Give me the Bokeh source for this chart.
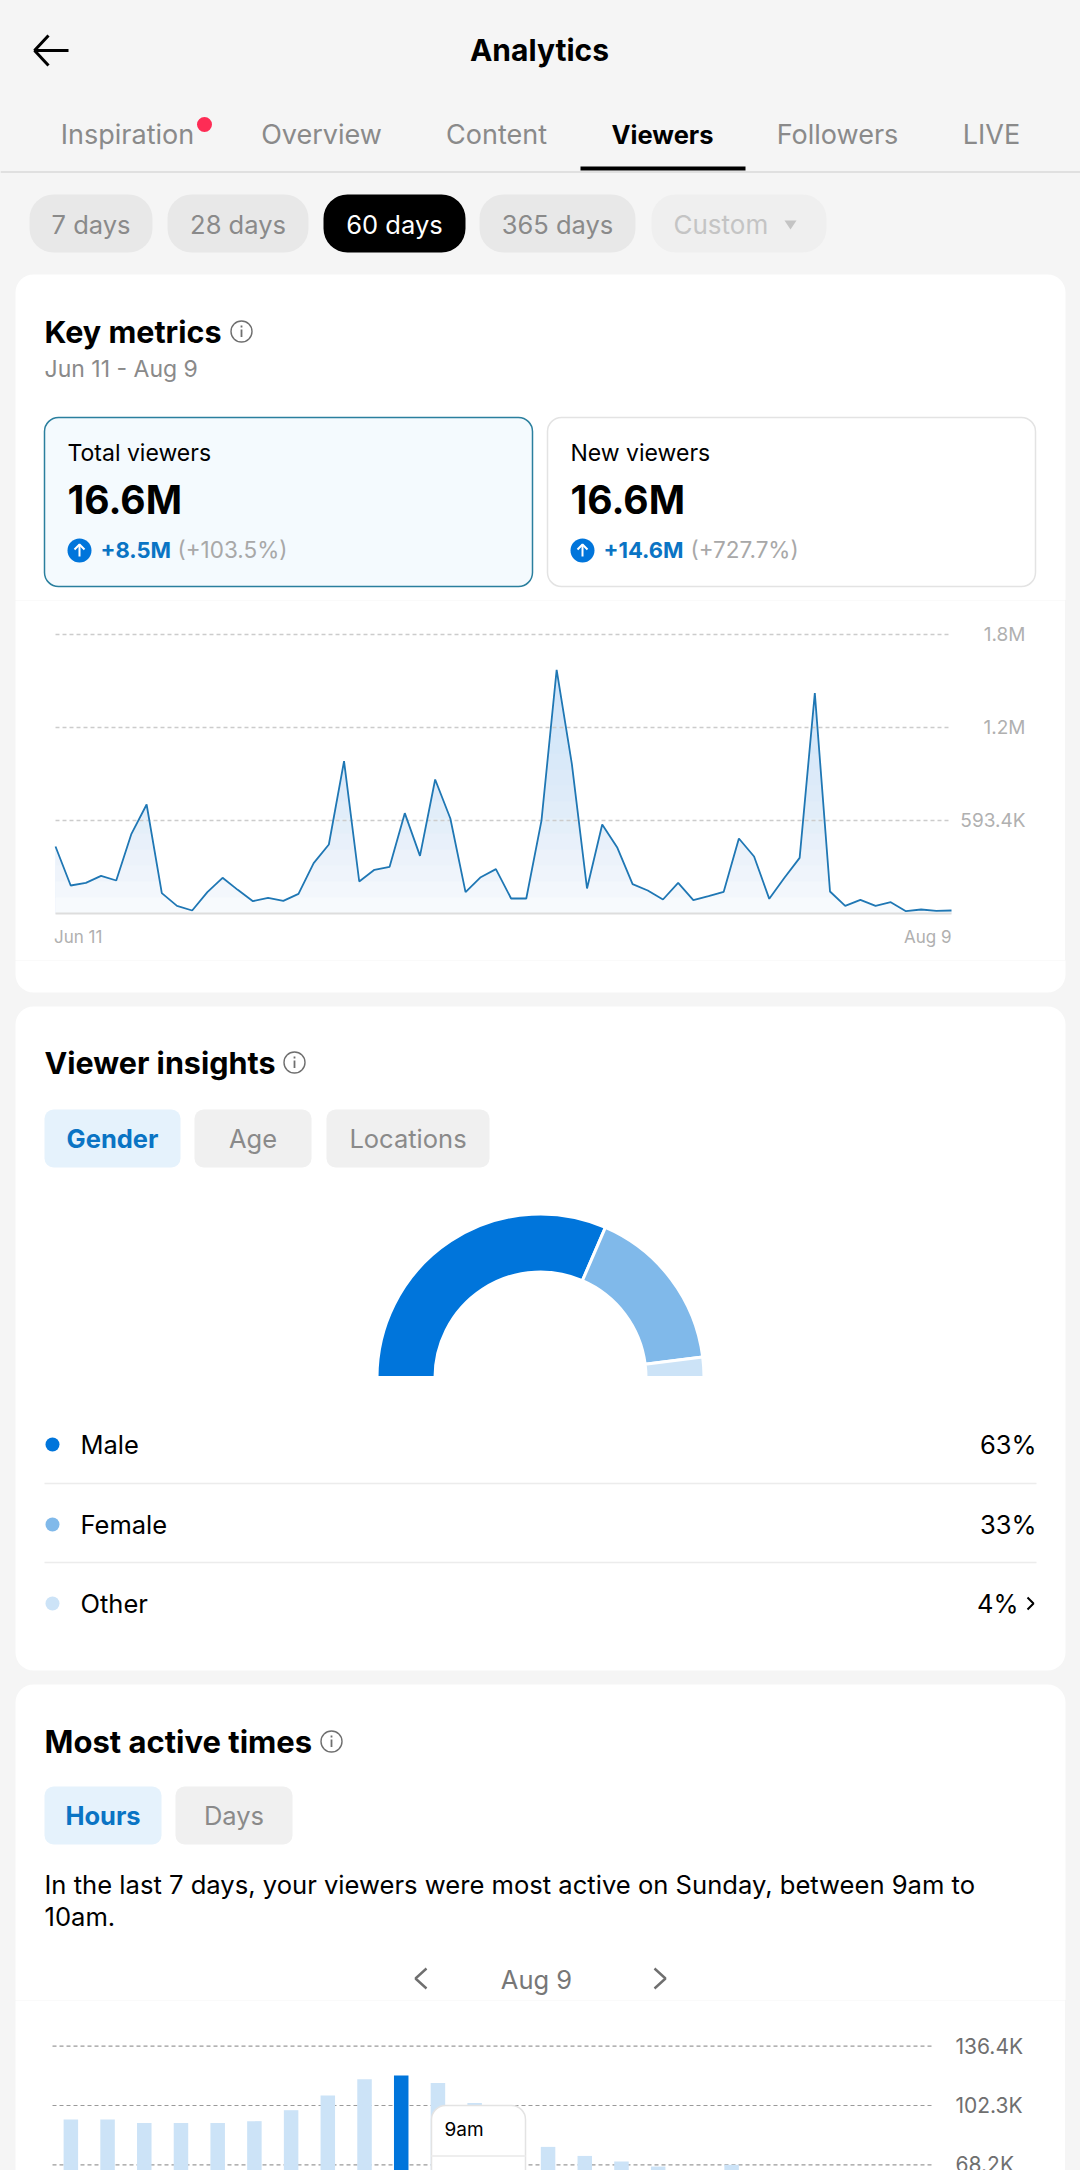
from bokeh.plotting import figure
from bokeh.layouts import column
from bokeh.models import Range1d
from bokeh.core.properties import value
from bokeh.embed import file_html
from bokeh.resources import INLINE
import math

# ---------- data ----------
TABS = ["Inspiration", "Overview", "Content", "Viewers", "Followers", "LIVE"]
PERIODS = ["7 days", "28 days", "60 days", "365 days", "Custom"]
VIEWERS_K = [427.5, 178.7, 195.7, 240.4, 210.6, 508.4, 695.5, 129.7, 48.9, 19.1,
             136.1, 227.6, 151.0, 78.7, 100.0, 80.8, 125.5, 321.2, 440.3, 972.0,
             204.2, 278.6, 297.8, 640.2, 368.0, 855.0, 606.0, 136.1, 231.8, 282.9,
             95.7, 95.7, 593.0, 1554.8, 955.0, 159.5, 567.9, 419.0, 187.2, 146.8,
             89.3, 195.7, 85.0, 110.6, 138.3, 478.6, 363.7, 93.6, 227.6, 355.2,
             1406.0, 140.4, 48.9, 87.2, 48.9, 72.3, 14.9, 25.5, 17.0, 19.1]
LINE_TICKS = [593.4, 1186.8, 1780.2]
LINE_TICK_LABELS = ["593.4K", "1.2M", "1.8M"]
LINE_DATES = ["Jun 11", "Aug 9"]
GENDER = ["Male", "Female", "Other"]
GENDER_PCT = [63, 33, 4]
GENDER_COLORS = ["#0075db", "#80b9ea", "#cce3f7"]
HOURS_K = [94.2, 94.2, 92.3, 92.3, 92.3, 93.3, 99.6, 108.0, 117.4, 119.5, 115.3, 103.8,
           92.0, 78.5, 73.3, 70.1, 67.2, 62.0, 68.2, 60.0, 58.0, 55.0, 52.0, 50.0]
BAR_TICKS = [68.2, 102.3, 136.4]
BAR_TICK_LABELS = ["68.2K", "102.3K", "136.4K"]

FONT = "Inter"
GRAY = "#f5f5f5"
TXT_GRAY = "#8a8a8a"
BLUE = "#0a74c4"


def ui_fig(y0, y1, x0=0, x1=1080):
    p = figure(width=x1 - x0, height=y1 - y0, x_range=Range1d(x0, x1), y_range=Range1d(y1, y0),
               x_axis_type=None, y_axis_type=None, toolbar_location=None, output_backend="svg",
               min_border=0, background_fill_color=GRAY, border_fill_color=GRAY, outline_line_color=None)
    p.grid.visible = False
    return p


def T(p, x, y, s, size=25, color="#000000", bold=False, align="left"):
    p.text(x=[x], y=[y - 1], text=[s], text_font=value(FONT), text_font_size=f"{size}px",
           text_color=color, text_font_style="bold" if bold else "normal",
           text_align=align, text_baseline="middle")


def box(p, l, r, t, b, fill, radius=0, line=None, lw=1.5):
    p.quad(left=[l], right=[r], top=[t], bottom=[b], fill_color=fill, line_color=line,
           line_width=lw, border_radius=radius)


def info(p, x, y):
    p.circle(x=[x], y=[y], radius=10.5, fill_color="#ffffff", line_color="#6f6f6f", line_width=1.4)
    p.segment([x], [y - 2], [x], [y + 5.5], line_color="#6f6f6f", line_width=1.8)
    p.segment([x], [y - 6], [x], [y - 4], line_color="#6f6f6f", line_width=1.8)


# ---------- top UI ----------
p1 = ui_fig(0, 600)
p1.line([68, 34, 48], [50, 50, 35], line_color="#000000", line_width=3)
p1.line([34, 48], [50, 65], line_color="#000000", line_width=3)
T(p1, 539, 50, "Analytics", 30, bold=True, align="center")
tab_x = [127, 321, 496, 662, 837, 991]
for name, x in zip(TABS, tab_x):
    sel = name == "Viewers"
    T(p1, x, 135, name, 25.5 if sel else 27, "#000000" if sel else TXT_GRAY, bold=sel, align="center")
p1.circle(x=[204], y=[124], radius=7.5, fill_color="#fe2c55", line_color=None)
p1.quad(left=[0], right=[1080], top=[170.5], bottom=[172.5], fill_color="#e0e0e0", line_color=None)
p1.quad(left=[580], right=[745], top=[166], bottom=[170], fill_color="#000000", line_color=None)
pills = [(29, 152), (167, 308), (323, 465), (479, 635), (651, 826)]
for name, (l, r) in zip(PERIODS, pills):
    sel = name == "60 days"
    cust = name == "Custom"
    box(p1, l, r, 194, 252, "#000000" if sel else ("#efefef" if cust else "#e8e8e8"), 24)
    if cust:
        T(p1, 673, 225, name, 26, "#c4c4c4")
    else:
        T(p1, (l + r) / 2, 225, name, 25.5, "#ffffff" if sel else TXT_GRAY, align="center")
p1.patch([784, 796, 790], [220, 220, 229], fill_color="#c4c4c4", line_color=None)

box(p1, 15, 1065, 274, 700, "#ffffff", 18)
T(p1, 44, 332, "Key metrics", 30.5, bold=True)
info(p1, 241, 331)
T(p1, 44, 369, "Jun 11 - Aug 9", 23, TXT_GRAY)
box(p1, 44, 532, 417, 586, "#f4fafe", 14, "#2a7f9e")
box(p1, 547, 1035, 417, 586, "#ffffff", 14, "#e3e3e3")
for x0, label, main, d1, d2, dx in [(67, "Total viewers", "16.6M", "+8.5M", "(+103.5%)", 177),
                                    (570, "New viewers", "16.6M", "+14.6M", "(+727.7%)", 690)]:
    T(p1, x0, 453, label, 23)
    T(p1, x0, 500, main, 39, bold=True)
    p1.circle(x=[x0 + 12], y=[550], radius=12, fill_color="#0075db", line_color=None)
    p1.segment([x0 + 12], [556], [x0 + 12], [544], line_color="#ffffff", line_width=2)
    p1.line([x0 + 7, x0 + 12, x0 + 17], [549, 544, 549], line_color="#ffffff", line_width=2)
    T(p1, x0 + 33, 550, d1, 22, BLUE, bold=True)
    T(p1, dx, 550, d2, 22.5, "#a8a8a8")

# ---------- line chart ----------
PX_X = (951 - 55) / 59
PX_Y = 93 / 593.4
p2 = figure(width=1050, height=360,
            x_range=Range1d(-(55 - 15) / PX_X, 59 + (1065 - 951) / PX_X),
            y_range=Range1d(-(960 - 913) / PX_Y, (913 - 600) / PX_Y),
            x_axis_type=None, y_axis_type=None, toolbar_location=None, output_backend="svg",
            min_border=0, background_fill_color="#ffffff", border_fill_color="#ffffff",
            outline_line_color=None)
p2.margin = (0, 0, 0, 15)
p2.grid.visible = False
xs = list(range(len(VIEWERS_K)))
p2.varea(x=xs, y1=[0] * len(xs), y2=VIEWERS_K, fill_color="#d0e5f9")
# gradient: nested white veils, all anchored at the baseline, so no seams appear between bands
step = 16 / PX_Y
n = math.ceil(max(VIEWERS_K) / step)
target = [0.97 * (1 - (i + 0.5) / n) ** 1.5 for i in range(n)] + [0.0]
veil = [1 - (1 - target[i]) / (1 - target[i + 1]) for i in range(n)]
p2.hbar(y=[step * (i + 1) / 2 for i in range(n)], height=[step * (i + 1) for i in range(n)], left=0, right=59,
        fill_color="#ffffff", line_color=None, fill_alpha=veil)
p2.segment(x0=[0] * 3, y0=LINE_TICKS, x1=[59] * 3, y1=LINE_TICKS, line_color="#cccccc",
           line_dash="4 3", line_width=1.5)
p2.segment(x0=[0], y0=[0], x1=[59], y1=[0], line_color="#dddddd", line_width=2)
p2.line(xs, VIEWERS_K, line_color="#1f77b4", line_width=1.8)
p2.text(x=[59 + 74 / PX_X] * 3, y=LINE_TICKS, text=LINE_TICK_LABELS, text_font=value(FONT),
        text_font_size="19px", text_color="#b0b0b0", text_align="right", text_baseline="middle")
p2.text(x=[-0.1, 59], y=[-150, -150], text=LINE_DATES, text_font=value(FONT), text_font_size="17px",
        text_color="#b0b0b0", text_align=["left", "right"], text_baseline="middle")

# ---------- middle UI ----------
p3 = ui_fig(960, 2000)
box(p3, 15, 1065, 900, 992, "#ffffff", 18)
box(p3, 15, 1065, 1006, 1670, "#ffffff", 18)
T(p3, 44, 1063, "Viewer insights", 30.5, bold=True)
info(p3, 294, 1062)
for name, l, r, sel in [("Gender", 44, 180, True), ("Age", 194, 311, False), ("Locations", 326, 489, False)]:
    box(p3, l, r, 1109, 1167, "#e5f2fc" if sel else "#f0f0f0", 9)
    T(p3, (l + r) / 2, 1139, name, 25.5, BLUE if sel else TXT_GRAY, bold=sel, align="center")
a = math.pi
for pct, col in zip(GENDER_PCT, GENDER_COLORS):
    b = a - math.pi * pct / 100
    p3.annular_wedge(x=[540], y=[1377], inner_radius=105.5, outer_radius=163.5,
                     start_angle=[b], end_angle=[a], fill_color=col, line_color="#ffffff", line_width=3)
    a = b
for name, pct, col, y in zip(GENDER, GENDER_PCT, GENDER_COLORS, [1445, 1525, 1604]):
    p3.circle(x=[52], y=[y - 1], radius=7, fill_color=col, line_color=None)
    T(p3, 80, y, name, 25.5)
    T(p3, 1018 if name == "Other" else 1036, y, f"{pct}%", 25.5, align="right")
p3.line([1027, 1033, 1027], [1597, 1603, 1609], line_color="#000000", line_width=2)
p3.segment([44, 44], [1483, 1562], [1036, 1036], [1483, 1562], line_color="#ececec", line_width=1.5)

box(p3, 15, 1065, 1684, 2200, "#ffffff", 18)
T(p3, 44, 1742, "Most active times", 31, bold=True)
info(p3, 331, 1741)
for name, l, r, sel in [("Hours", 44, 161, True), ("Days", 175, 292, False)]:
    box(p3, l, r, 1786, 1844, "#e5f2fc" if sel else "#f0f0f0", 9)
    T(p3, (l + r) / 2, 1816, name, 25.5, BLUE if sel else TXT_GRAY, bold=sel, align="center")
T(p3, 44, 1885, "In the last 7 days, your viewers were most active on Sunday, between 9am to", 25.6)
T(p3, 44, 1917, "10am.", 25.6)
p3.line([426, 415, 426], [1968, 1978, 1988], line_color="#6f6f6f", line_width=2.4)
p3.line([654, 665, 654], [1968, 1978, 1988], line_color="#6f6f6f", line_width=2.4)
T(p3, 536, 1980, "Aug 9", 25.5, "#777777", align="center")

# ---------- bar chart ----------
PX_PER_K = 59.3 / 34.1
BAND = (933 - 52) / 24
p4 = figure(width=1050, height=170,
            x_range=Range1d(-0.5 - (52 - 15) / BAND, 23.5 + (1065 - 933) / BAND),
            y_range=Range1d(136.4 - 124.3 / PX_PER_K, 136.4 + 45.7 / PX_PER_K),
            x_axis_type=None, y_axis_type=None, toolbar_location=None, output_backend="svg",
            min_border=0, background_fill_color="#ffffff", border_fill_color="#ffffff",
            outline_line_color=None)
p4.margin = (0, 0, 0, 15)
p4.grid.visible = False
p4.extra_x_ranges["px"] = Range1d(15, 1065)
p4.extra_y_ranges["px"] = Range1d(2170, 2000)
p4.segment(x0=[-0.5] * 3, y0=BAR_TICKS, x1=[23.5] * 3, y1=BAR_TICKS, line_color="#9a9a9a",
           line_dash="4 3", line_width=1.2)
p4.vbar(x=list(range(24)), top=HOURS_K, bottom=0, width=0.395, line_color=None,
        fill_color=["#0075db" if h == 9 else "#cce3f7" for h in range(24)])
p4.quad(left=[431], right=[525], top=[2105], bottom=[2230], fill_color="#ffffff", line_color="#e3e3e3",
        line_width=1.5, border_radius=14, x_range_name="px", y_range_name="px")
p4.segment([431], [2155.6], [525], [2155.6], line_color="#eeeeee", line_width=2,
           x_range_name="px", y_range_name="px")
p4.text(x=[444], y=[2129], text=["9am"], text_font=value(FONT), text_font_size="19px", text_baseline="middle",
        x_range_name="px", y_range_name="px")
p4.text(x=[23.5 + 22 / BAND] * 3, y=BAR_TICKS, text=BAR_TICK_LABELS, text_font=value(FONT),
        text_font_size="21px", text_color="#6f6f6f", text_baseline="middle")

page = column(p1, p2, p3, p4, spacing=0)
html = file_html(page, INLINE)
html = html.replace("</head>", f"<style>html,body{{background:{GRAY}}}</style></head>", 1)
open("out.html", "w").write(html)
